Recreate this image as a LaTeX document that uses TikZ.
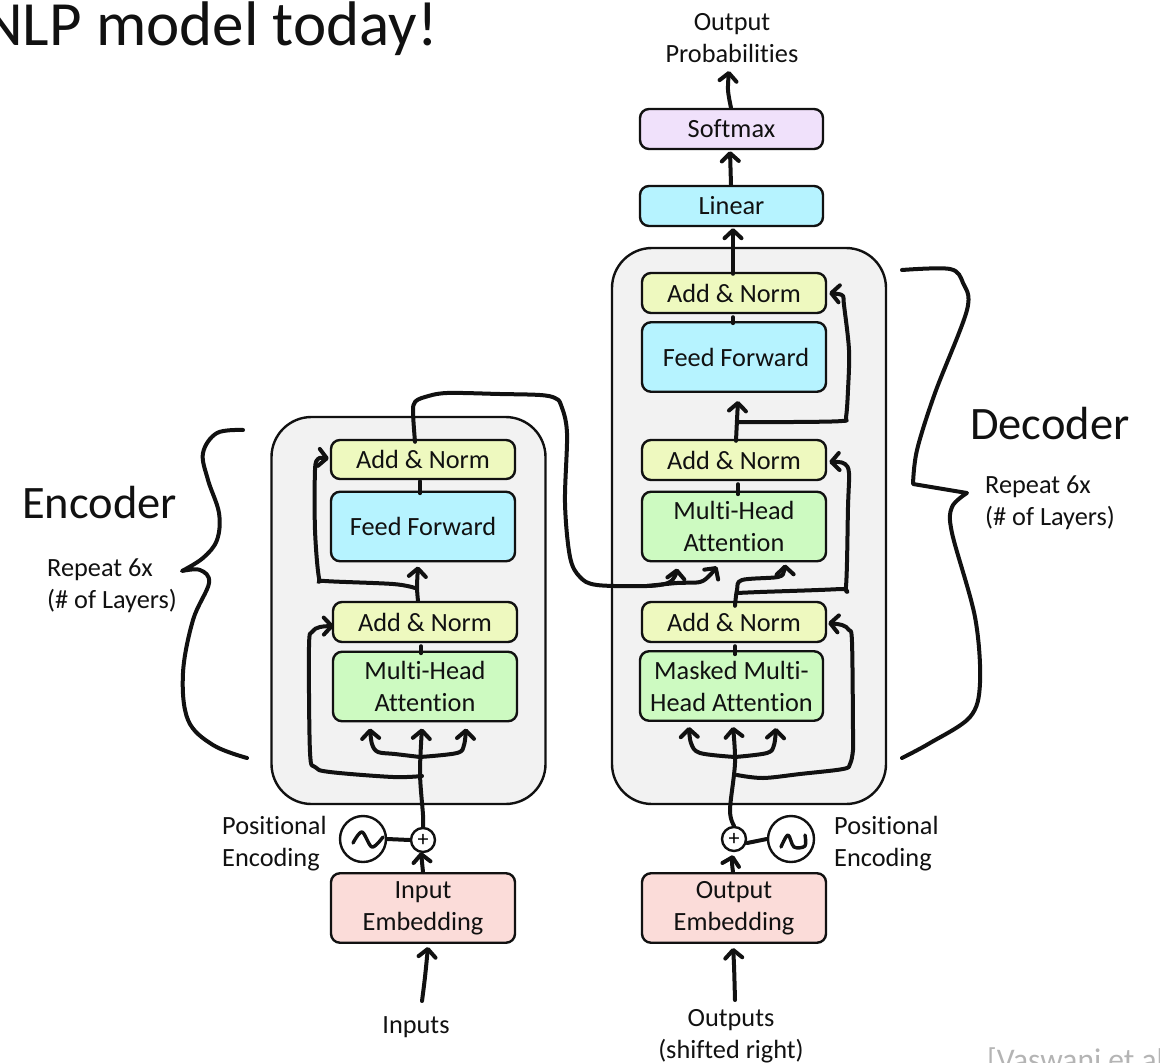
\documentclass[tikz,border=0pt]{standalone}
\usepackage{fontspec}
\setmainfont{Carlito}[Ligatures={NoCommon}]
\usetikzlibrary{arrows.meta,shapes.geometric}
\definecolor{cyellow}{HTML}{EEF9BF}
\definecolor{cblue}{HTML}{B6F3FF}
\definecolor{cgreen}{HTML}{CDFAC1}
\definecolor{cpink}{HTML}{FBDCD9}
\definecolor{cpurple}{HTML}{F0E1FB}
\definecolor{cpanel}{HTML}{F2F2F2}
\definecolor{ccite}{HTML}{B4B4B4}
\definecolor{ink}{HTML}{111111}
\tikzset{
  panel/.style={draw=ink,fill=cpanel,line width=2.4pt,rounded corners=40pt,inner sep=0pt},
  block/.style={draw=ink,line width=2.4pt,rounded corners=9pt,inner sep=0pt,align=center,text=ink,
    font=\fontsize{26.3}{32}\selectfont,minimum width=184pt},
  thin block/.style={block,minimum height=40pt},
  tall block/.style={block,minimum height=69.5pt},
  label text/.style={inner sep=0pt,align=center,text=ink,font=\fontsize{26.3}{32}\selectfont},
  left text/.style={inner sep=0pt,align=left,text=ink,font=\fontsize{26.3}{32}\selectfont},
  heading/.style={inner sep=0pt,text=ink,font=\fontsize{46.5}{50}\selectfont},
  sinecircle/.style={circle,draw=ink,line width=2.4pt,minimum size=46pt,inner sep=0pt},
  pluscircle/.style={circle,draw=ink,line width=2.4pt,minimum size=24pt,inner sep=0pt,font=\fontsize{22}{22}\selectfont},
  hand/.style={draw=ink,line width=4pt,line cap=round,line join=round},
  harrow/.style={hand,-{Straight Barb[length=8pt,width=17pt,line cap=round,round]}},
  sm/.style={smooth,tension=0.55},
}
\newcommand{\sft}[3]{([shift={(#1,#2)}]#3)}
\newcommand{\lowered}[1]{\raisebox{-4pt}{#1}}
\begin{document}
\begin{tikzpicture}[x=1pt,y=-1pt]
\useasboundingbox (0,0) rectangle (1160,1063);
\begin{scope}
\clip (0,0) rectangle (1160,1063);
\node[inner sep=0pt,anchor=base west,text=ink,font=\fontsize{63}{64}\selectfont] (title) at (-18,45) {NLP model today!};
\node[inner sep=0pt,anchor=base west,text=ccite,font=\fontsize{31.5}{34}\selectfont] (cite) at (987,1070) {[Vaswani et al.};
\end{scope}
% panels
\node[panel,minimum width=274pt,minimum height=387pt] (encpanel) at (408.5,610.5) {};
\node[panel,minimum width=274pt,minimum height=556pt] (decpanel) at (749,526) {};
% encoder
\node[thin block,fill=cyellow,minimum height=39pt] (eAN2) at (423,459.5) {Add \& Norm};
\node[tall block,fill=cblue] (eFF) at (423,526.5) {Feed Forward};
\node[thin block,fill=cyellow] (eAN1) at (425,622) {Add \& Norm};
\node[tall block,fill=cgreen] (eMHA) at (425,686.5) {Multi-Head\\Attention};
\node[tall block,fill=cpink] (iemb) at (423,908) {\lowered{Input}\\\lowered{Embedding}};
% decoder
\node[thin block,fill=cyellow] (dAN3) at (734,293) {Add \& Norm};
\node[tall block,fill=cblue] (dFF) at (734,357) {\hspace*{4pt}Feed Forward};
\node[thin block,fill=cyellow] (dAN2) at (734,460) {Add \& Norm};
\node[tall block,fill=cgreen] (dMHA) at (734,526.5) {Multi-Head\\Attention};
\node[thin block,fill=cyellow] (dAN1) at (734,622) {Add \& Norm};
\node[tall block,fill=cgreen,minimum width=183pt] (dMM) at (731.5,686) {Masked Multi-\\Head Attention};
\node[tall block,fill=cpink] (oemb) at (734,908) {\lowered{Output}\\\lowered{Embedding}};
\node[thin block,fill=cblue,minimum width=183pt] (linear) at (731.5,206) {Linear};
\node[thin block,fill=cpurple,minimum width=183pt] (softmax) at (731.5,129) {Softmax};
% circles
\node[sinecircle] (esine) at (363,839) {};
\node[pluscircle] (eplus) at (423,840) {+};
\node[pluscircle] (dplus) at (734,839) {+};
\node[sinecircle] (dsine) at (791,839) {};
% texts
\node[left text,anchor=west] (eposl) at (222,844) {Positional\\Encoding};
\node[left text,anchor=west] (dposl) at (834,844) {Positional\\Encoding};
\node[label text] (inputs) at (416,1027) {Inputs};
\node[label text] (outputs) at (731,1036) {Outputs\\(shifted right)};
\node[label text] (probs) at (732,38) {Output\\Probabilities};
\node[heading,anchor=west] (enclab) at (22,503) {Encoder};
\node[heading,anchor=west] (declab) at (970,424) {Decoder};
\node[left text,anchor=west] (erep) at (47,586) {Repeat 6x\\(\# of Layers)};
\node[left text,anchor=west] (drep) at (985,503) {Repeat 6x\\(\# of Layers)};
% sine glyphs
\draw[hand,line width=3.4pt] plot[sm] coordinates {(353,843) (362,832) (372,847) (383,837)};
\draw[hand,line width=3.4pt] plot[sm] coordinates {(781,847) (788,835) (794,847) (805,846) (805,835)};
% braces
\coordinate (ebt) at (243,430);
\coordinate (ebb) at (247,758);
\draw[hand] plot[smooth,tension=0.6] coordinates {(ebt) (217,433) (203,453) (208,480) (219,513) (217,540) (203,558) (182,571)}
  -- plot[smooth,tension=0.6] coordinates {(182,571) (200,570) (209,583) (193,620) (183,673) (188,720) (213,745) (ebb)};
\coordinate (dbt) at (902,270);
\coordinate (dbb) at (902,758);
\draw[hand] plot[smooth,tension=0.55] coordinates {(dbt) (950,269) (963,283) (967,310) (935,393) (917,450) (913,484)}
  -- (967,493)
  -- plot[smooth,tension=0.55] coordinates {(967,493) (952,507) (952,533) (975,617) (980,683) (970,717) (930,743) (dbb)};
% encoder connectors
\coordinate (inend) at (422,1001);
\draw[harrow] plot[sm] coordinates {(inend) (425,977) \sft{5}{3}{iemb.south}};
\draw[harrow] plot[sm] coordinates {(iemb.north) (422,862) \sft{-2}{-1}{eplus.south}};
\draw[hand] (esine.east) -- (eplus.west);
\draw[harrow] plot[sm] coordinates {(eplus.north) (423,815) (420,773) \sft{-3}{6}{eMHA.south}};
\draw[harrow] plot[sm] coordinates {(420,757) (395,754) (378,752) (372,744) \sft{-55}{6}{eMHA.south}};
\draw[harrow] plot[sm] coordinates {(420,757) (457,753) (464,745) \sft{41}{6}{eMHA.south}};
\draw[harrow] plot[sm] coordinates {(422,776) (393,777) (330,772) (315,767) (310,752) (309,647) (312,632) (320,627) \sft{2}{4}{eAN1.west}};
\draw[hand] (eAN1.south) ++(-4,3) -- ++(0,7);
\draw[harrow] plot[sm] coordinates {\sft{-7}{0}{eAN1.north} (417,587) \sft{-5}{4}{eFF.south}};
\draw[harrow] plot[sm] coordinates {(415,588) (393,584) (325,581) (319,578) (315,530) (315,470) (318,459) (322,458) \sft{-1}{-1}{eAN2.west}};
\draw[hand] (eAN2.south) ++(-3,1) -- ++(0,12);
\draw[harrow] plot[sm] coordinates {\sft{-8}{3}{eAN2.north} (413,412) (415,402) (425,397) (447,393) (500,394) (540,395) (555,398) (561,405) (567,433) (565,503) (570,557) (580,577) (597,585) (647,586) (668,583) (675,576) \sft{-57}{6}{dMHA.south}};
\draw[harrow] plot[sm] coordinates {(647,586) (677,583) (700,582) (710,575) \sft{-17}{4}{dMHA.south}};
% decoder connectors
\coordinate (outend) at (735,1000);
\draw[harrow] plot[sm] coordinates {(outend) (734,965) \sft{-1}{4}{oemb.south}};
\draw[harrow] plot[sm] coordinates {\sft{-1}{0}{oemb.north} (732,862) \sft{-1}{3}{dplus.south}};
\draw[hand] (dplus.east) ++(0,4) -- (dsine.west);
\draw[harrow] plot[sm] coordinates {(dplus.north) (730,810) (735,763) \sft{1.5}{5}{dMM.south}};
\draw[harrow] plot[sm] coordinates {(735,757) (700,753) (691,743) \sft{-42.5}{5}{dMM.south}};
\draw[harrow] plot[sm] coordinates {(735,757) (767,753) (774,745) \sft{44.5}{6}{dMM.south}};
\draw[harrow] plot[sm] coordinates {(737,775) (763,778) (800,774) (843,769) (850,764) (853,750) (853,730) (852,642) (849,630) (842,625) \sft{1}{1}{dAN1.east}};
\draw[hand] (dAN1.south) ++(1,3) -- ++(0,8);
\draw[harrow] plot[sm] coordinates {\sft{1}{5}{dAN1.north} (737,590) (742,580) (778,577) (784,571) \sft{51}{2}{dMHA.south}};
\draw[harrow] plot[sm] coordinates {(737,593) (760,592) (840,589) (846,586) (848,507) (849,473) (845,464) (838,462) \sft{2}{2}{dAN2.east}};
\draw[hand] (dAN2.south) ++(4,3) -- ++(0,10);
\draw[harrow] plot[sm] coordinates {\sft{2}{2}{dAN2.north} (737,420) \sft{4}{8}{dFF.south}};
\draw[harrow] plot[sm] coordinates {(738,422) (793,422) (842,421) (846,417) (848,390) (849,350) (844,305) (843,296) (838,294) \sft{2}{0}{dAN3.east}};
\draw[hand] (dAN3.south) ++(-1,3) -- ++(0,6);
\draw[harrow] plot[sm] coordinates {\sft{-1}{2}{dAN3.north} (733,250) \sft{1.5}{1}{linear.south}};
\draw[harrow] plot[sm] coordinates {\sft{-0.5}{0}{linear.north} (730.5,168) \sft{-1.5}{1}{softmax.south}};
\draw[harrow] plot[sm] coordinates {\sft{-0.5}{0}{softmax.north} (728,90) (729,71)};
\end{tikzpicture}
\end{document}
